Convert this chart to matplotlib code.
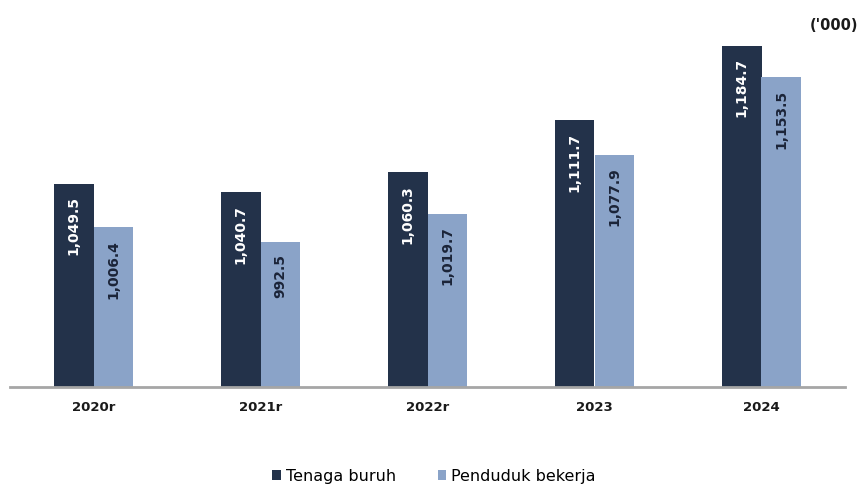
import matplotlib
matplotlib.use("Agg")
import matplotlib.pyplot as plt
import numpy as np

years = ["2020r", "2021r", "2022r", "2023", "2024"]
tenaga_buruh = [1049.5, 1040.7, 1060.3, 1111.7, 1184.7]
penduduk_bekerja = [1006.4, 992.5, 1019.7, 1077.9, 1153.5]
series_names = ["Tenaga buruh", "Penduduk bekerja"]

dark = "#23324A"
light = "#8AA3C8"

plt.rcParams["font.family"] = ["DejaVu Sans"]

fig = plt.figure(figsize=(8.58, 4.87), dpi=100)
ax = fig.add_axes([10 / 858, 1 - 387 / 487, 835 / 858, 357 / 487])

x = np.arange(len(years))
w = 0.235
b1 = ax.bar(x - w / 2, tenaga_buruh, width=w, color=dark, label=series_names[0], zorder=2)
b2 = ax.bar(x + w / 2, penduduk_bekerja, width=w, color=light, label=series_names[1], zorder=2)

ax.set_ylim(850, 1200)
ax.set_xlim(-0.5, len(years) - 0.5)

for rects, vals, col in ((b1, tenaga_buruh, "white"), (b2, penduduk_bekerja, "#1B2438")):
    for r, v in zip(rects, vals):
        ax.annotate(f"{v:,.1f}", (r.get_x() + r.get_width() / 2, v),
                    xytext=(0, -9), textcoords="offset points",
                    rotation=90, ha="center", va="top", color=col,
                    fontsize=10, fontweight="bold")

for s in ["top", "right", "left"]:
    ax.spines[s].set_visible(False)
ax.spines["bottom"].set_color("#A6A6A6")
ax.spines["bottom"].set_linewidth(2)
ax.set_yticks([])
ax.set_xticks(x)
ax.set_xticklabels(years, fontsize=9.5, fontweight="bold", color="#1A1A1A")
ax.tick_params(axis="x", length=0, pad=10)

fig.text(1.0, 1 - 26 / 487, "('000)", ha="right", va="center",
         fontsize=10.5, fontweight="bold", color="#1A1A1A")

fig.legend(handles=[b1, b2], labels=series_names, loc="center",
           bbox_to_anchor=(434 / 858, 1 - 476 / 487), ncol=2, frameon=False,
           prop={"size": 11.5},
           handlelength=0.55, handleheight=0.55, handletextpad=0.3,
           columnspacing=2.6)

fig.savefig("out.png", dpi=100)
